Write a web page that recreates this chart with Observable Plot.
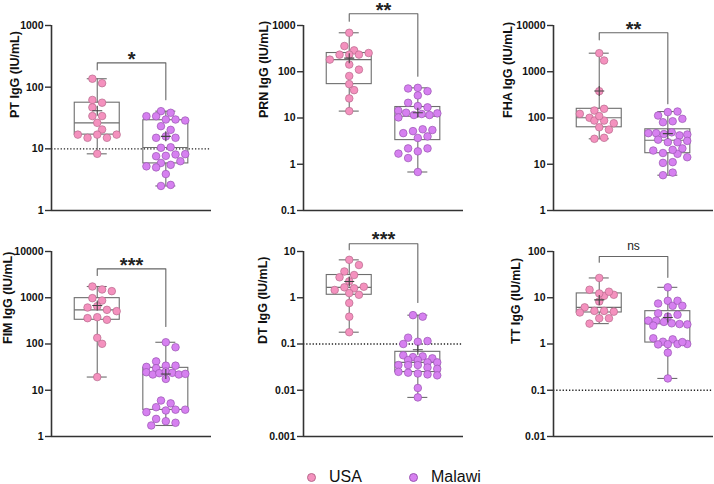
<!DOCTYPE html>
<html><head><meta charset="utf-8">
<script src="https://cdn.jsdelivr.net/npm/d3@7"></script>
<script src="https://cdn.jsdelivr.net/npm/@observablehq/plot@0.6"></script>
<style>
body{margin:0;background:#fff;font-family:"Liberation Sans",Arial,sans-serif;}
#wrap{position:relative;width:714px;height:484px;overflow:hidden;background:#fff;}
.panel{position:absolute;}
.sw{position:absolute;width:9px;height:9px;border-radius:50%;box-sizing:border-box;}
.lt{position:absolute;font-size:16px;line-height:18px;color:#111;}
</style></head><body><div id="wrap"></div>
<script>
// ---------- data ----------
const groups = ["USA", "Malawi"];
const groupFill = ["#F491BE", "#D680F0"];
const groupStroke = ["#B86A8C", "#9A55B2"];
const yLabels = ["PT IgG (IU/mL)", "PRN IgG (IU/mL)", "FHA IgG (IU/mL)", "FIM IgG (IU/mL)", "DT IgG (IU/mL)", "TT IgG (IU/mL)"];

const ptUSA = [137, 116, 62, 56, 47, 34, 34, 26.4, 20.6, 17, 15.1, 17, 15.1, 17, 8.3];
const ptMalawi = [40.8, 38.4, 33.8, 33.8, 29.9, 29.9, 28.8, 23.3, 20.3, 15.1, 15.9, 15.1, 10.4, 10.6, 7.6, 7.7, 8.1, 8.2, 5.9, 5.2, 5.5, 5.0, 6.3, 3.9, 2.5, 2.6];
const prnUSA = [696, 360, 290, 234, 234, 235, 254, 183, 143, 111, 81, 54, 40, 26.5, 14.1];
const prnMalawi = [43.5, 44.9, 38, 30.8, 21.3, 18.1, 17, 14.4, 13, 11.6, 10.3, 12.2, 11.6, 12.6, 4.7, 5.2, 5.7, 5.5, 3.7, 4.0, 2.2, 1.9, 1.7, 2.2, 1.36, 0.68];
const fhaUSA = [2520, 1750, 380, 145, 158, 123, 101, 88, 88, 110, 77, 63, 56, 35.5, 37.3];
const fhaMalawi = [113, 134, 138, 81, 85, 96, 47, 47, 45, 49, 42, 44, 34, 30, 30, 32, 16.8, 19.8, 17.5, 20.5, 22, 14.2, 10.7, 11.1, 5.8, 6.6];
const fimUSA = [1750, 1390, 1510, 980, 870, 615, 656, 548, 513, 362, 380, 334, 136, 101, 19.3];
const fimMalawi = [109, 85, 42, 34, 34, 32, 30, 24.5, 21.9, 23.4, 25.4, 23.8, 21.9, 22.6, 17.6, 6.0, 5.2, 4.3, 3.65, 3.36, 3.8, 3.8, 2.4, 2.14, 1.98, 1.73];
const dtUSA = [6.6, 5.1, 3.7, 3.1, 2.77, 2.26, 1.47, 1.68, 1.6, 1.26, 1.73, 1.16, 0.77, 0.39, 0.18];
const dtMalawi = [0.42, 0.39, 0.137, 0.112, 0.116, 0.10, 0.057, 0.052, 0.054, 0.049, 0.045, 0.045, 0.040, 0.040, 0.035, 0.035, 0.035, 0.031, 0.029, 0.025, 0.024, 0.023, 0.022, 0.021, 0.0112, 0.0070];
const ttUSA = [26.8, 14.9, 11, 12.4, 11.6, 13.5, 8.3, 6.2, 5.2, 4.8, 5.2, 5.0, 3.6, 3.6, 2.76];
const ttMalawi = [16.8, 7.5, 8.6, 6.7, 8.6, 6.7, 4.6, 3.9, 4.3, 3.2, 3.2, 3.0, 2.8, 2.7, 2.5, 2.65, 1.33, 1.12, 1.26, 0.98, 0.99, 1.0, 1.0, 1.1, 0.65, 0.18];

const ptTicks = [1, 10, 100, 1000];
const prnTicks = [0.1, 1, 10, 100, 1000];
const fhaTicks = [1, 10, 100, 1000, 10000];
const fimTicks = [1, 10, 100, 1000, 10000];
const dtTicks = [0.001, 0.01, 0.1, 1, 10];
const ttTicks = [0.01, 0.1, 1, 10, 100];

const significance = ["*", "**", "**", "***", "***", "ns"];
const bracketTop = [248, 1790, 6950, 4220, 14.7, 77.9];
const bracketLegUSA = [191, 1240, 4900, 3020, 10.9, 58.5];
const bracketLegMalawi = [62.8, 80, 203, 239, 0.79, 27.6];
const cutoffs = [10, null, null, null, 0.1, 0.1];

// ---------- layout ----------
const series = [[ptUSA, ptMalawi], [prnUSA, prnMalawi], [fhaUSA, fhaMalawi], [fimUSA, fimMalawi], [dtUSA, dtMalawi], [ttUSA, ttMalawi]];
const tickSets = [ptTicks, prnTicks, fhaTicks, fimTicks, dtTicks, ttTicks];
const labelOffsets = [37, 40, 46, 44, 41, 38];
const panelLeft = [0, 252, 502, 0, 252, 502];
const panelTop = [0, 0, 0, 226, 226, 226];
const W = 214, H = 220, ML = 51, MR = 3, MT = 25, MB = 10;
const XMAX = 2.333, centers = [0.667, 1.667];
const unit = (W - ML - MR) / XMAX;
const R = 3.8;
const STEP = 9.7, SPAN = 39, BIN = 4.6, DMIN = 7.4;
const boxHalf = 22.5 / unit, capHalf = 10 / unit, meanHalf = 5;

function quart(s, p) {
  const n = s.length, pos = p * (n + 1), lo = Math.floor(pos), f = pos - lo;
  if (lo < 1) return s[0];
  if (lo >= n) return s[n - 1];
  return s[lo - 1] + f * (s[lo] - s[lo - 1]);
}

// row-binned scatter layout (points of similar value share a row, spread sideways)
function scatterLayout(values, ys) {
  const pts = values.map((v, i) => ({i, y: ys(v)})).sort((a, b) => a.y - b.y);
  const bins = [];
  for (const p of pts) {
    const b = bins[bins.length - 1];
    if (b && p.y - b[0].y < BIN) b.push(p); else bins.push([p]);
  }
  const placed = [], off = new Array(values.length);
  for (const b of bins) {
    b.sort((a, c) => a.i - c.i);
    const n = b.length;
    const s = n > 1 ? Math.min(STEP, SPAN / (n - 1)) : STEP;
    const base = b.map((p, k) => (k - (n - 1) / 2) * s);
    const half = (n - 1) / 2 * s;
    const shifts = [0, s / 2, -s / 2, s, -s, 1.5 * s, -1.5 * s, 2 * s, -2 * s].filter(sh => half + Math.abs(sh) <= SPAN / 2 + 0.5);
    let best = 0, bestScore = -Infinity;
    for (const sh of shifts) {
      let md = Infinity;
      b.forEach((p, k) => {
        for (const q of placed) md = Math.min(md, Math.hypot(q.x - (base[k] + sh), q.y - p.y));
      });
      const score = md >= DMIN ? 1000 - Math.abs(sh) : md;
      if (score > bestScore) { bestScore = score; best = sh; }
    }
    b.forEach((p, k) => { off[p.i] = base[k] + best; placed.push({x: base[k] + best, y: p.y}); });
  }
  return off;
}

const plusSymbol = {
  draw(ctx, size) {
    const r = Math.sqrt(size / Math.PI);
    ctx.moveTo(-r, 0); ctx.lineTo(r, 0);
    ctx.moveTo(0, -r); ctx.lineTo(0, r);
  }
};

const wrap = document.getElementById("wrap");
const font = "'Liberation Sans', Arial, Helvetica, sans-serif";
const boxColor = "#6e6e6e";

series.forEach((pair, i) => {
  const ticks = tickSets[i];
  const domain = [ticks[0], ticks[ticks.length - 1]];
  const ys = d3.scaleLog().domain(domain).range([H - MB, MT]);
  const dots = [], stats = [];
  pair.forEach((vals, g) => {
    const off = scatterLayout(vals, ys);
    vals.forEach((v, k) => dots.push({g, v, x: centers[g] + off[k] / unit}));
    const s = vals.slice().sort(d3.ascending);
    stats.push({g, c: centers[g], min: s[0], max: s[s.length - 1], q1: quart(s, .25), med: quart(s, .5), q3: quart(s, .75), mean: d3.mean(s)});
  });
  const bracket = [
    {x: centers[0], y: bracketLegUSA[i]},
    {x: centers[0], y: bracketTop[i]},
    {x: centers[1], y: bracketTop[i]},
    {x: centers[1], y: bracketLegMalawi[i]}
  ];
  const isNs = significance[i] === "ns";
  const marks = [];
  if (cutoffs[i] != null) marks.push(Plot.ruleY([cutoffs[i]], {stroke: "#222", strokeWidth: 1.3, strokeDasharray: "1.3,1.9"}));
  marks.push(
    Plot.ruleX(stats, {x: "c", y1: "q3", y2: "max", stroke: boxColor, strokeWidth: 1.1}),
    Plot.ruleX(stats, {x: "c", y1: "min", y2: "q1", stroke: boxColor, strokeWidth: 1.1}),
    Plot.ruleY(stats, {y: "max", x1: d => d.c - capHalf, x2: d => d.c + capHalf, stroke: boxColor, strokeWidth: 1.1}),
    Plot.ruleY(stats, {y: "min", x1: d => d.c - capHalf, x2: d => d.c + capHalf, stroke: boxColor, strokeWidth: 1.1}),
    Plot.rect(stats, {x1: d => d.c - boxHalf, x2: d => d.c + boxHalf, y1: "q1", y2: "q3", fill: "none", stroke: boxColor, strokeWidth: 1.1}),
    Plot.ruleY(stats, {y: "med", x1: d => d.c - boxHalf, x2: d => d.c + boxHalf, stroke: boxColor, strokeWidth: 1.1}),
    Plot.dot(dots.filter(d => d.g === 0), {x: "x", y: "v", r: R, fill: groupFill[0], stroke: groupStroke[0], strokeWidth: 0.7}),
    Plot.dot(dots.filter(d => d.g === 1), {x: "x", y: "v", r: R, fill: groupFill[1], stroke: groupStroke[1], strokeWidth: 0.7}),
    Plot.dot(stats, {x: "c", y: "mean", r: meanHalf, symbol: plusSymbol, fill: "none", stroke: "#444", strokeWidth: 1.1}),
    Plot.line(bracket, {x: "x", y: "y", stroke: "#666", strokeWidth: 1.1}),
    Plot.text([significance[i]], {x: (centers[0] + centers[1]) / 2, y: bracketTop[i], text: d => d,
      fontSize: isNs ? 12 : 20, fontWeight: isNs ? "normal" : "bold", lineAnchor: "middle", dy: isNs ? -10.7 : -3.7, fill: "#222"}),
    Plot.ruleX([0], {stroke: "#333", strokeWidth: 1.6}),
    Plot.ruleY([domain[0]], {stroke: "#333", strokeWidth: 1.6}),
    Plot.axisY(ticks, {tickFormat: d => String(d), tickSize: 6, tickPadding: 2, stroke: "#333", strokeWidth: 1.4, label: null, fontWeight: "bold", fontSize: 10.5, fill: "#111"}),
    Plot.text([yLabels[i]], {frameAnchor: "left", dx: -labelOffsets[i], rotate: -90, text: d => d, fontSize: 12.5, fontWeight: "bold", fill: "#111"})
  );
  const chart = Plot.plot({
    width: W, height: H, marginLeft: ML, marginRight: MR, marginTop: MT, marginBottom: MB,
    x: {domain: [0, XMAX], axis: null},
    y: {type: "log", domain},
    style: {fontFamily: font, fontSize: "10px", color: "#111", background: "transparent", overflow: "visible"},
    marks
  });
  chart.classList.add("panel");
  chart.style.left = panelLeft[i] + "px";
  chart.style.top = panelTop[i] + "px";
  wrap.appendChild(chart);
});

// legend
const legendX = [306.5, 408.5];
groups.forEach((g, k) => {
  const sw = document.createElement("div");
  sw.className = "sw";
  sw.style.left = legendX[k] + "px";
  sw.style.top = "472.5px";
  sw.style.background = groupFill[k];
  sw.style.border = "0.8px solid " + groupStroke[k];
  wrap.appendChild(sw);
  const t = document.createElement("div");
  t.className = "lt";
  t.textContent = g;
  t.style.left = (legendX[k] + 22.5) + "px";
  t.style.top = "468px";
  wrap.appendChild(t);
});
</script></body></html>
